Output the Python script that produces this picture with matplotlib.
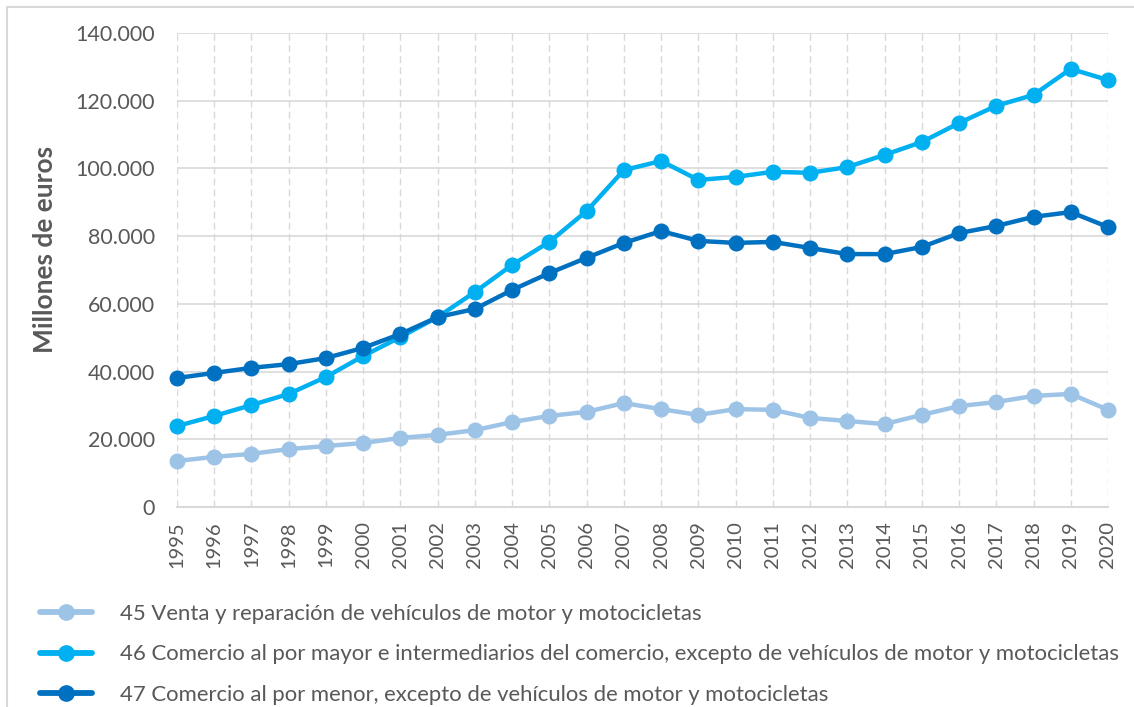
import matplotlib
matplotlib.use("Agg")
import matplotlib.pyplot as plt
from matplotlib.patches import Rectangle
from matplotlib.ticker import FuncFormatter, MultipleLocator

years = list(range(1995, 2021))
s45 = [13600, 14800, 15700, 17100, 18000, 18900, 20400, 21300, 22700, 25100,
       26900, 28100, 30700, 28900, 27200, 28900, 28700, 26300, 25400, 24500,
       27200, 29800, 31000, 32800, 33400, 28700]
s46 = [23900, 26900, 30100, 33400, 38400, 44600, 50200, 56100, 63500, 71500,
       78300, 87400, 99500, 102200, 96600, 97500, 99000, 98700, 100400, 104000,
       107800, 113400, 118500, 121700, 129400, 126100]
s47 = [38100, 39600, 41100, 42200, 44000, 47000, 51100, 56100, 58500, 64100,
       69100, 73600, 78000, 81500, 78600, 78000, 78300, 76500, 74700, 74700,
       76800, 80900, 83000, 85700, 87100, 82700]
labels = ["45 Venta y reparación de vehículos de motor y motocicletas",
          "46 Comercio al por mayor e intermediarios del comercio, excepto de vehículos de motor y motocicletas",
          "47 Comercio al por menor, excepto de vehículos de motor y motocicletas"]
colors = ["#9DC3E6", "#00B0F0", "#0070C0"]

plt.rcParams['font.family'] = ['Lato', 'DejaVu Sans']
W, H = 1134, 707
fig = plt.figure(figsize=(W / 100, H / 100), dpi=100)
ax = fig.add_axes([177 / W, 1 - 507 / H, (1108 - 177) / W, (507 - 33) / H])

handles = []
for s, c, lab in zip([s45, s46, s47], colors, labels):
    h, = ax.plot(years, s, color=c, lw=3.2, marker='o', ms=10.5, label=lab,
                 solid_capstyle='round', zorder=3, clip_on=False)
    handles.append(h)

ax.set_xlim(1995, 2020)
ax.set_ylim(0, 140000)
ax.yaxis.set_major_locator(MultipleLocator(20000))
ax.yaxis.set_major_formatter(FuncFormatter(lambda v, p: f"{int(v):,}".replace(",", ".")))
ax.set_xticks(years)
ax.set_xticklabels([str(y) for y in years], rotation=90)
ax.grid(axis='y', color='#D9D9D9', lw=1.2, ls='-')
ax.grid(axis='x', color='#D9D9D9', lw=1.0, ls=(0, (5, 3)))
ax.set_axisbelow(True)
for sp in ['top', 'right', 'left']:
    ax.spines[sp].set_visible(False)
ax.spines['bottom'].set_color('#D9D9D9')
ax.spines['bottom'].set_linewidth(1.5)
ax.tick_params(axis='both', length=0, colors='#595959')
ax.tick_params(axis='y', labelsize=15.5, pad=16)
ax.tick_params(axis='x', labelsize=14.5, pad=10)
ax.set_ylabel("Millones de euros", fontsize=19, fontweight='bold', color='#595959')
ax.yaxis.set_label_coords(-(177 - 45) / (1108 - 177), (507 - 249) / (507 - 33))
ax.yaxis.label.set_va('center')

leg = fig.legend(handles=handles, loc='upper left', bbox_to_anchor=(40 / W, 1 - 604 / H),
                 frameon=False, fontsize=15.9, labelcolor='#595959', handlelength=2.36,
                 handletextpad=1.27, labelspacing=0.92, borderpad=0, borderaxespad=0)
for lh in leg.legend_handles:
    lh.set_linewidth(4.2)
    lh.set_markersize(11)

fig.patches.append(Rectangle((7 / W, -0.1), 1.2, 1 - 7 / H + 0.1, transform=fig.transFigure,
                             fill=False, edgecolor='#D9D9D9', lw=1.5, zorder=0))

fig.savefig("out.png", dpi=100, facecolor='white')
